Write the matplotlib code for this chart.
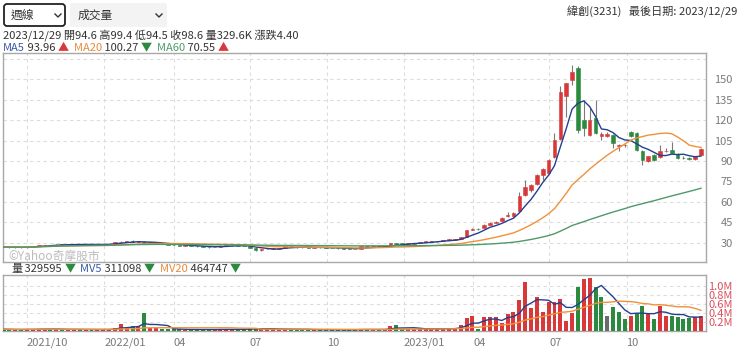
import numpy as np
import pandas as pd
import matplotlib
matplotlib.use('Agg')
import matplotlib.pyplot as plt
from matplotlib.patches import FancyBboxPatch

plt.rcParams['font.family'] = ['Noto Sans CJK TC', 'DejaVu Sans']

# weekly bars (Fridays), lunar new year weeks closed
weeks = pd.date_range('2021-09-03', '2023-12-29', freq='W-FRI')
weeks = weeks[~weeks.isin(pd.to_datetime(['2022-02-04', '2023-01-27']))]

opens = [27.0, 26.8, 26.6, 26.7, 26.5, 26.9, 27.4, 28.0, 28.3, 28.2,
         28.6, 28.5, 28.7, 28.9, 28.6, 28.8, 28.5, 28.7, 28.9, 29.2,
         30.5, 30.8, 30.9, 30.6, 30.8, 29.8, 29.9, 29.9, 29.0, 28.5,
         28.2, 27.8, 27.9, 27.6, 27.2, 26.8, 26.6, 27.0, 27.8, 28.0,
         28.1, 27.9, 27.8, 26.3, 24.4, 25.2, 25.5, 25.6, 26.3, 27.6,
         26.8, 26.6, 26.5, 26.4, 26.6, 26.5, 26.2, 26.0, 25.8, 25.7,
         25.5, 25.5, 27.3, 27.0, 27.1, 27.0, 27.8, 29.5, 29.2, 29.1,
         29.3, 29.8, 30.6, 30.8, 30.9, 31.2, 32.0, 32.2, 32.7, 34.0,
         39.5, 40.2, 41.0, 43.2, 44.5, 46.0, 49.8, 49.5, 53.0, 65.0,
         68.7, 73.0, 80.0, 81.0, 93.0, 106.0, 138.0, 149.6, 158.0, 120.0,
         109.0, 121.6, 108.0, 108.0, 109.0, 101.0, 101.6, 111.4, 110.6, 97.6,
         90.0, 94.4, 92.6, 97.2, 98.0, 95.0, 92.2, 92.0, 91.5, 94.6]
highs = [27.2, 27.0, 26.9, 26.9, 27.1, 27.6, 28.2, 28.5, 28.5, 28.8,
         28.8, 28.9, 29.1, 29.0, 29.0, 28.9, 28.9, 29.1, 29.2, 30.8,
         31.2, 31.3, 31.8, 31.0, 31.5, 30.2, 30.3, 30.0, 29.1, 28.7,
         28.4, 28.1, 28.0, 27.7, 27.3, 27.0, 27.1, 28.0, 28.2, 28.3,
         28.2, 28.0, 28.0, 26.5, 25.4, 25.7, 25.8, 26.0, 27.9, 27.7,
         27.0, 26.8, 26.7, 26.8, 26.8, 26.6, 26.3, 26.1, 26.0, 25.8,
         25.6, 27.5, 27.4, 27.3, 27.2, 27.4, 29.8, 29.7, 29.4, 29.5,
         29.8, 30.8, 31.0, 31.2, 31.5, 32.2, 32.5, 33.0, 34.0, 39.5,
         40.8, 40.6, 43.5, 45.5, 45.8, 48.5, 52.5, 52.5, 67.5, 76.0,
         73.0, 80.5, 84.5, 91.5, 110.5, 144.7, 147.5, 160.6, 160.0, 135.0,
         129.0, 135.0, 111.0, 111.0, 109.5, 102.8, 102.3, 111.8, 111.6, 98.0,
         94.0, 95.0, 101.8, 99.6, 104.0, 95.5, 93.5, 92.8, 94.0, 99.4]
lows = [26.6, 26.4, 26.4, 26.3, 26.4, 26.8, 27.3, 27.8, 28.0, 28.1,
        28.3, 28.4, 28.5, 28.4, 28.5, 28.3, 28.4, 28.6, 28.7, 29.1,
        30.3, 30.5, 30.4, 30.3, 29.6, 29.5, 29.6, 28.9, 28.3, 28.0,
        27.6, 27.6, 27.4, 27.0, 26.6, 26.4, 26.5, 26.9, 27.6, 27.8,
        27.7, 27.6, 25.8, 24.0, 24.2, 25.0, 25.3, 25.4, 26.1, 26.7,
        26.4, 26.3, 26.2, 26.3, 26.3, 26.0, 25.8, 25.6, 25.5, 25.3,
        25.0, 25.4, 26.8, 26.9, 26.8, 26.9, 27.6, 29.0, 28.9, 29.0,
        29.2, 29.7, 30.5, 30.6, 30.8, 31.1, 31.8, 32.0, 32.5, 33.8,
        39.2, 39.3, 40.8, 43.0, 44.2, 45.8, 48.8, 49.0, 52.5, 64.0,
        67.0, 72.5, 76.0, 80.5, 92.5, 105.5, 122.6, 146.0, 110.6, 108.0,
        108.5, 110.0, 105.5, 107.5, 99.6, 97.0, 100.5, 107.5, 97.5, 87.0,
        89.5, 90.0, 92.0, 96.5, 95.5, 91.5, 91.3, 91.0, 91.0, 94.5]
closes = [26.8, 26.6, 26.7, 26.5, 26.9, 27.4, 28.0, 28.3, 28.2, 28.6,
          28.5, 28.7, 28.9, 28.6, 28.8, 28.5, 28.7, 28.9, 29.0, 30.5,
          30.8, 30.9, 30.6, 30.8, 29.8, 29.9, 30.0, 29.0, 28.5, 28.2,
          27.8, 27.9, 27.6, 27.2, 26.8, 26.6, 26.9, 27.8, 28.0, 28.1,
          27.9, 27.8, 26.0, 24.4, 25.2, 25.5, 25.6, 25.8, 27.6, 26.8,
          26.6, 26.5, 26.4, 26.6, 26.5, 26.2, 26.0, 25.8, 25.7, 25.5,
          25.3, 27.3, 27.0, 27.1, 27.0, 27.2, 29.5, 29.2, 29.1, 29.3,
          29.6, 30.6, 30.8, 30.9, 31.2, 32.0, 32.2, 32.7, 33.8, 39.0,
          40.2, 39.8, 43.0, 44.5, 45.3, 48.0, 50.0, 52.0, 64.0, 71.0,
          72.0, 80.0, 84.0, 91.0, 105.7, 141.0, 147.0, 155.7, 113.0, 114.0,
          120.0, 110.6, 110.0, 110.0, 103.4, 102.0, 101.8, 108.0, 98.0, 90.9,
          93.7, 90.9, 97.0, 97.4, 96.0, 92.3, 92.0, 91.5, 93.7, 98.6]
# volume in thousand shares
vol_k = [40, 35, 30, 32, 38, 45, 50, 42, 35, 40,
         33, 36, 38, 34, 30, 33, 31, 35, 38, 70,
         160, 65, 100, 100, 390, 70, 60, 45, 40, 38,
         35, 32, 30, 34, 36, 33, 30, 42, 38, 35,
         40, 36, 60, 65, 50, 40, 35, 33, 55, 40,
         32, 30, 28, 30, 28, 30, 27, 26, 25, 27,
         30, 50, 35, 30, 28, 32, 100, 130, 45, 40,
         45, 50, 60, 45, 40, 55, 50, 70, 130, 280,
         340, 50, 320, 320, 300, 170, 370, 430, 690, 1080,
         520, 750, 410, 640, 640, 700, 230, 390, 980, 1160,
         1170, 980, 750, 340, 540, 430, 270, 340, 390, 550,
         370, 270, 550, 340, 340, 320, 270, 290, 320, 329.595]

month_starts = pd.to_datetime(['2021-10-01', '2022-01-01', '2022-04-01', '2022-07-01', '2022-10-01',
                               '2023-01-01', '2023-04-01', '2023-07-01', '2023-10-01'])
month_labels = ['2021/10', '2022/01', '04', '07', '10', '2023/01', '04', '07', '10']

o = np.array(opens); h = np.array(highs); l = np.array(lows); c = np.array(closes)
v = np.array(vol_k) * 1000
x = np.arange(len(weeks))
close_s = pd.Series(c)
vol_s = pd.Series(v)

RED = '#d9383a'
GREEN = '#2b8a3e'
GREY = '#6b6b6b'
GRID = '#dcdcdc'
TXT = '#333333'

fig = plt.figure(figsize=(7.4, 3.5), dpi=100)
ax = fig.add_axes([3 / 740, 1 - 262 / 350, 703 / 740, 209 / 350])
axv = fig.add_axes([3 / 740, 1 - 331 / 350, 703 / 740, 56 / 350])

# candles
cc = np.where(c > o, RED, np.where(c < o, GREEN, GREY))
ax.vlines(x, l, h, color='#7a7a7a', lw=0.8, zorder=2)
body = np.maximum(np.abs(c - o), 0.35)
ax.bar(x, body, 0.62, bottom=np.minimum(o, c), color=cc, edgecolor=cc, lw=0.4, zorder=3)

ax.plot(x, close_s.rolling(5, min_periods=1).mean(), color='#23408e', lw=1, zorder=4)
ax.plot(x, close_s.rolling(20, min_periods=1).mean(), color='#f0913a', lw=1, zorder=4)
ax.plot(x, close_s.rolling(60, min_periods=1).mean(), color='#4f9a68', lw=1, zorder=4)

# volume bars coloured against previous close
prev = np.concatenate([[o[0]], c[:-1]])
vc = np.where(c > prev, RED, np.where(c < prev, GREEN, GREY))
axv.bar(x, v, 0.68, color=vc, zorder=3)
axv.plot(x, vol_s.rolling(5, min_periods=1).mean(), color='#23408e', lw=1, zorder=4)
axv.plot(x, vol_s.rolling(20, min_periods=1).mean(), color='#f0913a', lw=1, zorder=4)

tick_pos = np.interp([d.toordinal() for d in month_starts], [d.toordinal() for d in weeks], x)

for a in (ax, axv):
    a.set_xlim(-0.1, 119.85)
    a.set_xticks(tick_pos)
    a.grid(True, color=GRID, ls=(0, (3, 3)), lw=0.8)
    a.set_axisbelow(True)
    a.yaxis.tick_right()
    for s in a.spines.values():
        s.set_color('#a8a8a8')
        s.set_linewidth(1)

ax.set_ylim(15.8, 169.3)
ax.set_yticks(np.arange(30, 166, 15))
ax.set_yticklabels([str(t) if t < 165 else '' for t in range(30, 166, 15)])
ax.tick_params(axis='y', length=0, pad=19.4, labelsize=8, labelcolor='#7a7a7a')
for t in ax.get_yticklabels():
    t.set_ha('right')
ax.tick_params(axis='x', length=0, labelbottom=False)

axv.set_ylim(0, 1.24e6)
axv.set_yticks([0.2e6, 0.4e6, 0.6e6, 0.8e6, 1.0e6])
axv.set_yticklabels(['0.2M', '0.4M', '0.6M', '0.8M', '1.0M'])
axv.tick_params(axis='y', length=0, pad=19.4, labelsize=8, labelcolor='#d9505c')
for t in axv.get_yticklabels():
    t.set_ha('right')
axv.set_xticklabels(month_labels)
axv.tick_params(axis='x', length=0, pad=5, labelsize=8, labelcolor='#7a7a7a')
for t in axv.get_xticklabels():
    t.set_ha('left')

ax.text(0.007, 0.028, '©Yahoo奇摩股市', transform=ax.transAxes, fontsize=8.5,
        color='#bcbcbc', ha='left', va='center', zorder=1)

# header overlay in pixel coordinates
top = fig.add_axes([0, 0, 1, 1], zorder=-1)
top.set_xlim(0, 740)
top.set_ylim(350, 0)
top.axis('off')

top.add_patch(FancyBboxPatch((4, 4), 61, 22, boxstyle='round,pad=0,rounding_size=3',
                             fc='white', ec='#222222', lw=1.3))
top.add_patch(FancyBboxPatch((70, 3), 97, 24, boxstyle='round,pad=0,rounding_size=2',
                             fc='#f3f3f3', ec='none'))
top.text(11, 15.5, '週線', fontsize=8.5, color=TXT, va='center')
top.text(78, 15.5, '成交量', fontsize=8.5, color=TXT, va='center')
for cx in (58, 159):
    top.plot([cx - 3, cx, cx + 3], [14, 17, 14], color=TXT, lw=1)

top.text(737, 12, '緯創(3231)   最後日期: 2023/12/29', fontsize=8, color=TXT,
         ha='right', va='center')

renderer = fig.canvas.get_renderer()


def seq_text(xpos, ypos, parts, size=8):
    for s, col in parts:
        t = top.text(xpos, ypos, s, color=col, fontsize=size, va='center', ha='left')
        xpos += t.get_window_extent(renderer=renderer).width


seq_text(3, 35, [('2023/12/29 開94.6 高99.4 低94.5 收98.6 量329.6K 漲跌4.40', TXT)])
seq_text(3, 48, [('MA5', '#3a5aa8'), (' 93.96 ', TXT), ('▲', RED),
                 ('  MA20', '#e88a3a'), (' 100.27 ', TXT), ('▼', GREEN),
                 ('  MA60', '#4f9a68'), (' 70.55 ', TXT), ('▲', RED)])
seq_text(11, 269, [('量', TXT), (' 329595 ', TXT), ('▼', GREEN),
                   ('  MV5', '#3a5aa8'), (' 311098 ', TXT), ('▼', GREEN),
                   ('  MV20', '#e88a3a'), (' 464747 ', TXT), ('▼', GREEN)])

fig.savefig('out.png', dpi=100)
